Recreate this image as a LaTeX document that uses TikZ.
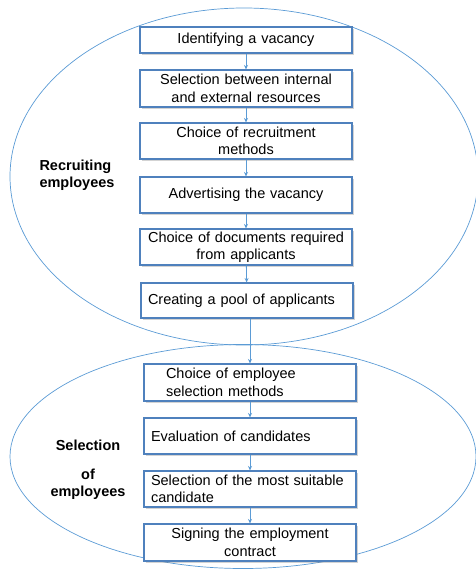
\documentclass[tikz,border=0pt]{standalone}
\usepackage{fontspec}
\setmainfont{Liberation Sans}
\usetikzlibrary{shadows,arrows.meta}
\definecolor{ellblue}{HTML}{5B9BD5}
\definecolor{boxblue}{HTML}{4F81BD}
\tikzset{
  stepbox/.style={draw=boxblue, line width=1.1pt, fill=white, minimum width=212pt,
    inner xsep=7pt, inner ysep=2pt, align=center, text width=198pt,
    font=\fontsize{14.5}{17.5}\selectfont,
    drop shadow={shadow xshift=1.6pt, shadow yshift=-1.6pt, opacity=0.35, fill=gray}},
  leftbox/.style={stepbox, align=left},
  ell/.style={draw=ellblue, line width=0.7pt},
  arr/.style={draw=ellblue, line width=0.8pt, -{Stealth[length=4.5pt,width=4pt]}},
  grouplabel/.style={font=\bfseries\fontsize{14.5}{17.5}\selectfont}
}
\begin{document}
\begin{tikzpicture}[x=1pt,y=-1pt]
\useasboundingbox (0,0) rectangle (475,570);
\draw[ell] (244,176.5) ellipse [x radius=234pt, y radius=168.5pt];
\draw[ell] (243,456.5) ellipse [x radius=233pt, y radius=112pt];

\node[stepbox, minimum height=26pt] (b1) at (246,40) {Identifying a vacancy};
\node[stepbox, minimum height=37pt] (b2) at (246,88.5) {Selection between internal\\and external resources};
\node[stepbox, minimum height=36pt] (b3) at (246,141) {Choice of recruitment\\methods};
\node[stepbox, minimum height=36pt] (b4) at (246,195) {Advertising the vacancy};
\node[stepbox, minimum height=36pt] (b5) at (246,247) {Choice of documents required\\from applicants};
\node[leftbox, minimum height=35pt] (b6) at (247,300.5) {Creating a pool of applicants};
\node[leftbox, minimum height=37pt] (b7) at (250,382.5) {\hspace*{15pt}Choice of employee\\\hspace*{15pt}selection methods};
\node[leftbox, minimum height=36pt] (b8) at (250,436) {Evaluation of candidates};
\node[leftbox, minimum height=36pt] (b9) at (250,489) {Selection of the most suitable\\candidate};
\node[stepbox, minimum height=37pt] (b10) at (250,542.5) {Signing the employment\\contract};

\node[grouplabel, align=left] (g1) at (77,175) {Recruiting\\employees};
\node[grouplabel, align=center] (g2) at (88,470) {Selection\\[11pt]of\\employees};

\draw[arr] (b1) -- (b2);
\draw[arr] (b2) -- (b3);
\draw[arr] (b3) -- (b4);
\draw[arr] (b4) -- (b5);
\draw[arr] (b5) -- (b6);
\draw[arr] (b6.south -| b7.north) -- (b7.north);
\draw[arr] (b7) -- (b8);
\draw[arr] (b8) -- (b9);
\draw[arr] (b9) -- (b10);
\end{tikzpicture}
\end{document}
